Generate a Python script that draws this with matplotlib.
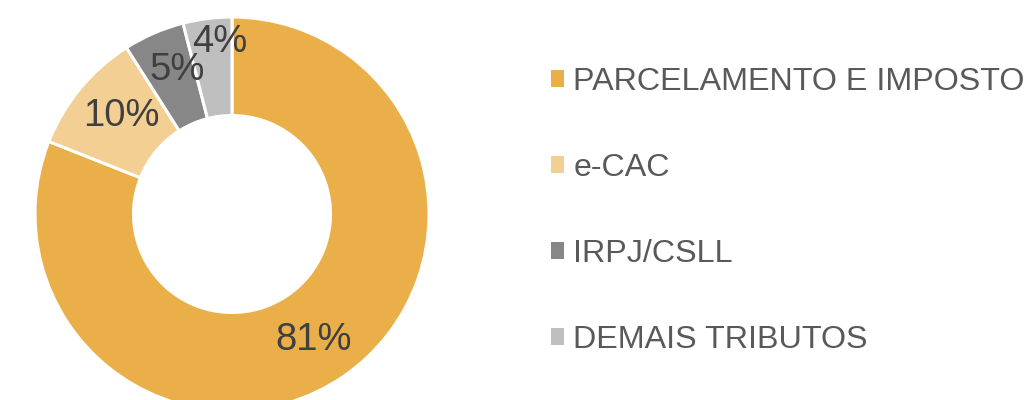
import matplotlib
matplotlib.use("Agg")
import matplotlib.pyplot as plt
import numpy as np

categories = ["PARCELAMENTO E IMPOSTO", "e-CAC", "IRPJ/CSLL", "DEMAIS TRIBUTOS"]
values = [81, 10, 5, 4]
labels = ["81%", "10%", "5%", "4%"]
colors = ["#EAAF48", "#F3CF93", "#878787", "#BFBFBF"]
label_radius = [0.76, 0.75, 0.78, 0.875]
label_angle_shift = [-1.3, -1.8, -2.5, -3.2]

plt.rcParams['font.family'] = ['Liberation Sans', 'DejaVu Sans']

W, H = 1026, 400
fig = plt.figure(figsize=(W / 100, H / 100), dpi=100)
ax = fig.add_axes([0, 0, 1, 1])
R = 197.0
cx, cy = 232.0, 214.0

wedges, _ = ax.pie(values, colors=colors, startangle=90, counterclock=False,
                   radius=1.0,
                   wedgeprops=dict(width=0.5, edgecolor='white', linewidth=2.2))
ax.set_xlim(-cx / R, (W - cx) / R)
ax.set_ylim(-(H - cy) / R, cy / R)
ax.set_aspect('equal')
ax.axis('off')

for w, lab, r, da in zip(wedges, labels, label_radius, label_angle_shift):
    ang = np.deg2rad((w.theta1 + w.theta2) / 2 + da)
    ax.text(r * np.cos(ang), r * np.sin(ang), lab, ha='center', va='center',
            fontsize=27.5, color='#404040')

leg = ax.legend(wedges, categories, loc='upper left',
                bbox_to_anchor=(551 / W, 1 - 67 / H), bbox_transform=fig.transFigure,
                frameon=False, fontsize=23.2, labelcolor='#595959',
                handlelength=0.41, handleheight=0.41, handletextpad=0.28,
                labelspacing=1.74, borderpad=0, borderaxespad=0)
for h in leg.legend_handles:
    h.set_edgecolor('none')

fig.savefig("out.png", dpi=100, facecolor='white')
